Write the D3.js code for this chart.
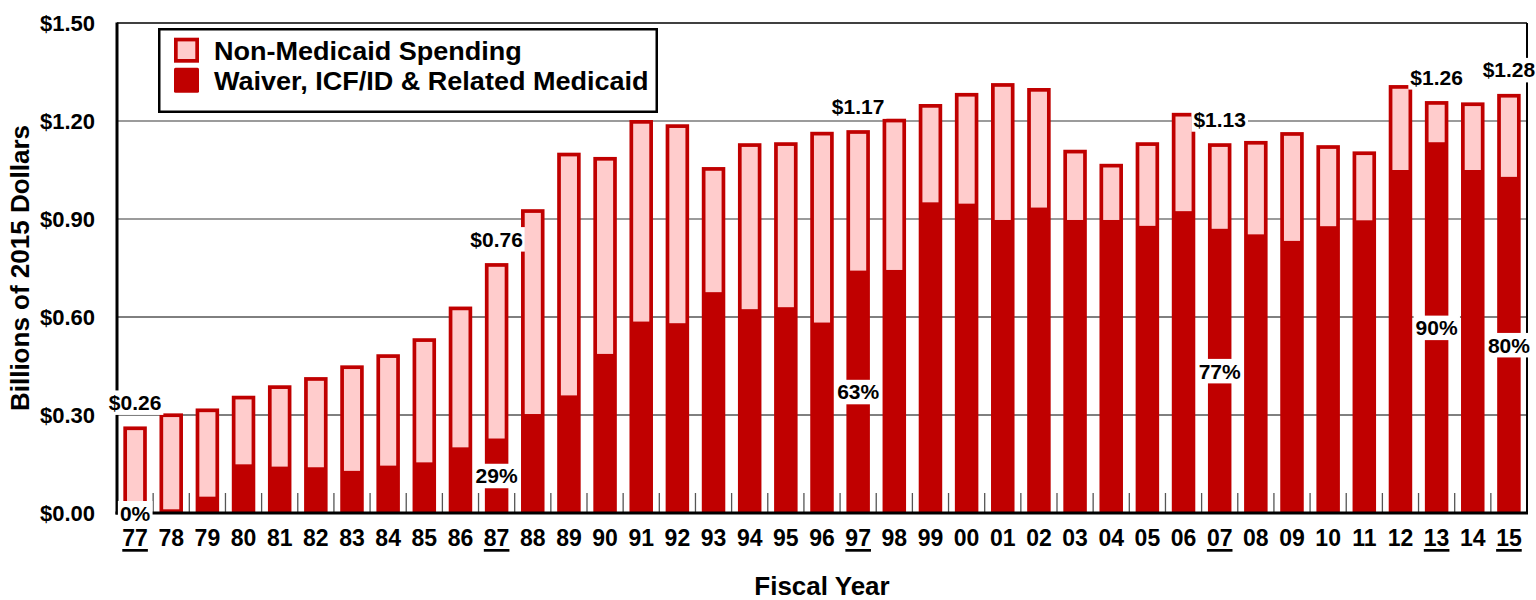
<!DOCTYPE html>
<html><head><meta charset="utf-8">
<script src="https://cdn.jsdelivr.net/npm/d3@7"></script>
<style>
body{margin:0;background:#fff;}
svg text{font-family:"Liberation Sans",Arial,Helvetica,sans-serif;font-weight:bold;fill:#000;}
</style></head><body>
<svg id="chart" width="1536" height="600"></svg>
<script>
// ---- data (billions of 2015 dollars) ----
const years = ["77","78","79","80","81","82","83","84","85","86","87","88","89","90","91","92","93","94","95","96","97","98","99","00","01","02","03","04","05","06","07","08","09","10","11","12","13","14","15"];
const totalSpending = [0.265,0.305,0.320,0.359,0.391,0.416,0.452,0.486,0.535,0.632,0.765,0.930,1.103,1.090,1.203,1.190,1.059,1.132,1.135,1.167,1.172,1.207,1.252,1.286,1.316,1.301,1.112,1.069,1.135,1.225,1.132,1.139,1.166,1.126,1.107,1.310,1.261,1.257,1.283];
const medicaidSpending = [0,0,0.050,0.149,0.142,0.140,0.129,0.145,0.155,0.201,0.228,0.303,0.360,0.487,0.586,0.581,0.676,0.624,0.630,0.583,0.742,0.744,0.951,0.947,0.897,0.935,0.897,0.897,0.879,0.924,0.870,0.853,0.833,0.878,0.896,1.050,1.135,1.050,1.029];
const underlinedYears = ["77","87","97","07","13","15"];
const labelYears = ["77","87","97","07","13","15"];
const totalLabels = ["$0.26","$0.76","$1.17","$1.13","$1.26","$1.28"];
const pctLabels = ["0%","29%","63%","77%","90%","80%"];
const yTicks = [0,0.3,0.6,0.9,1.2,1.5];
const seriesNames = ["Non-Medicaid Spending","Waiver, ICF/ID & Related Medicaid"];

// ---- layout ----
const DARK = "#C00000", PINK = "#FFCCCC";
const L = 117, R = 1527, T = 23, B = 513;
const svg = d3.select("#chart");

const x = d3.scaleBand().domain(years).range([L, R]).paddingInner(0.35).paddingOuter(0.175);
const y = d3.scaleLinear().domain([0, 1.5]).range([B, T]);
const bw = x.bandwidth();
const border = 3.7;

// gridlines
svg.append("g").selectAll("line").data(yTicks.filter(d => d > 0 && d < 1.5)).join("line")
  .attr("x1", L).attr("x2", R).attr("y1", d => y(d)).attr("y2", d => y(d))
  .attr("stroke", d => d < 0.8 ? "#000" : "#7a7a7a")
  .attr("stroke-width", d => d < 0.8 ? 1 : 1.3);
// top frame
svg.append("line").attr("x1", L).attr("x2", R).attr("y1", y(1.5)).attr("y2", y(1.5))
  .attr("stroke", "#000").attr("stroke-width", 1.5);

// minor ticks between bars
const step = x.step();
svg.append("g").selectAll("line").data(d3.range(1, years.length)).join("line")
  .attr("x1", i => L + i * step).attr("x2", i => L + i * step)
  .attr("y1", B - 20).attr("y2", B)
  .attr("stroke", "#555").attr("stroke-width", 1.3);

// bars
const rows = years.map((yr, i) => ({yr, total: totalSpending[i], med: medicaidSpending[i]}));
const bars = svg.append("g").selectAll("g").data(rows).join("g");
bars.append("rect")
  .attr("x", d => x(d.yr)).attr("y", d => y(d.total))
  .attr("width", bw).attr("height", d => y(0) - y(d.total))
  .attr("fill", DARK);
bars.append("rect")
  .attr("x", d => x(d.yr) + border).attr("y", d => y(d.total) + border)
  .attr("width", bw - 2 * border)
  .attr("height", d => Math.max(0, Math.min(y(d.med), y(0) - border) - (y(d.total) + border)))
  .attr("fill", PINK);

// right border
svg.append("line").attr("x1", R).attr("x2", R).attr("y1", T).attr("y2", B)
  .attr("stroke", "#000").attr("stroke-width", 2);
// left axis line & bottom axis line
svg.append("line").attr("x1", L).attr("x2", L).attr("y1", T - 0.5).attr("y2", B + 1.5)
  .attr("stroke", "#000").attr("stroke-width", 3);
svg.append("line").attr("x1", L - 1.5).attr("x2", R + 1).attr("y1", B).attr("y2", B)
  .attr("stroke", "#000").attr("stroke-width", 3);

// y axis labels
const yAxis = svg.append("g").attr("transform", `translate(${L},0)`)
  .call(d3.axisLeft(y).tickValues(yTicks).tickFormat(d => "$" + d.toFixed(2)).tickSize(0).tickPadding(22));
yAxis.select(".domain").remove();
yAxis.selectAll("text").style("font-size", "22px").attr("dy", "0.36em");

// x axis labels
const xAxis = svg.append("g").attr("transform", `translate(0,${B})`)
  .call(d3.axisBottom(x).tickSize(0));
xAxis.select(".domain").remove();
xAxis.selectAll("text").style("font-size", "23px").attr("y", 33).attr("dy", 0);
xAxis.selectAll(".tick").each(function(d) {
  if (!underlinedYears.includes(d)) return;
  const t = d3.select(this).select("text");
  const w = t.node().getComputedTextLength();
  d3.select(this).append("rect").attr("x", -w / 2).attr("y", 36).attr("width", w).attr("height", 2.7).attr("fill", "#000");
});

// axis titles
svg.append("text").attr("x", (L + R) / 2).attr("y", 595).attr("text-anchor", "middle")
  .style("font-size", "26px").text("Fiscal Year");
svg.append("text").attr("transform", `translate(29,${(T + B) / 2}) rotate(-90)`).attr("text-anchor", "middle")
  .style("font-size", "26px").text("Billions of 2015 Dollars");

// labels with white backgrounds
function boxedLabel(cx, cy, txt) {
  const g = svg.append("g");
  const bg = g.append("rect").attr("fill", "#fff");
  const t = g.append("text").attr("x", cx).attr("y", cy + 7.6).attr("text-anchor", "middle")
    .style("font-size", "21px").text(txt);
  const bb = t.node().getBBox();
  bg.attr("x", bb.x - 2).attr("y", cy - 12).attr("width", bb.width + 4).attr("height", 24.5);
}
labelYears.forEach((yr, i) => {
  const k = years.indexOf(yr);
  const cx = x(yr) + bw / 2;
  boxedLabel(cx, y(totalSpending[k]) - 24, totalLabels[i]);
  boxedLabel(cx, (y(medicaidSpending[k]) + y(0)) / 2, pctLabels[i]);
});

// legend
const lg = svg.append("g");
lg.append("rect").attr("x", 159.25).attr("y", 29.25).attr("width", 497.5).attr("height", 82.5)
  .attr("fill", "#fff").attr("stroke", "#000").attr("stroke-width", 2.5);
lg.append("rect").attr("x", 174).attr("y", 37.7).attr("width", 25).attr("height", 25).attr("fill", DARK);
lg.append("rect").attr("x", 174 + border).attr("y", 37.7 + border).attr("width", 25 - 2 * border).attr("height", 25 - 2 * border).attr("fill", PINK);
lg.append("rect").attr("x", 174).attr("y", 67.7).attr("width", 25).attr("height", 25).attr("fill", DARK).attr("rx", 1.5);
lg.selectAll("text").data(seriesNames).join("text")
  .attr("transform", (d, i) => `translate(214,${60 + i * 30}) scale(1.04,1)`)
  .style("font-size", "26px").text(d => d);
</script>
</body></html>
